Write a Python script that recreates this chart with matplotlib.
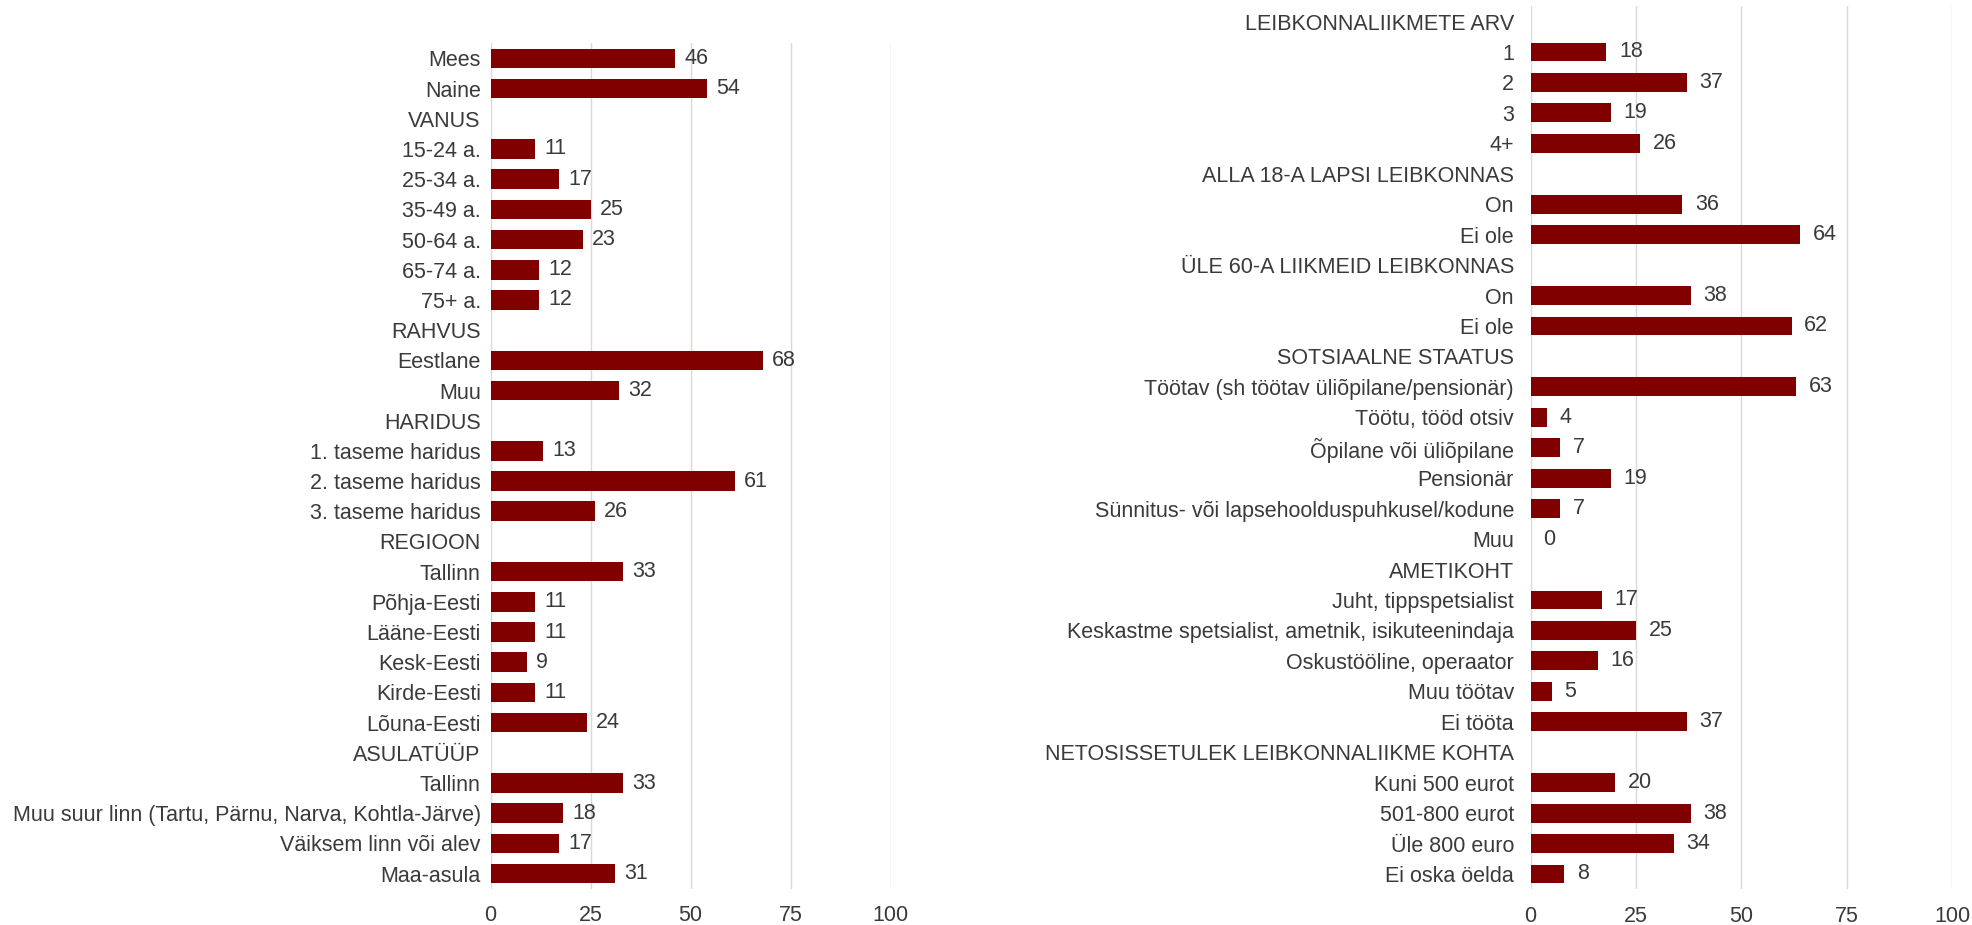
import matplotlib
matplotlib.use("Agg")
import matplotlib.pyplot as plt

plt.rcParams['font.family'] = ['Liberation Sans', 'DejaVu Sans']

# left panel
left_labels = ['Mees', 'Naine', 'VANUS', '15-24 a.', '25-34 a.', '35-49 a.', '50-64 a.',
               '65-74 a.', '75+ a.', 'RAHVUS', 'Eestlane', 'Muu', 'HARIDUS',
               '1. taseme haridus', '2. taseme haridus', '3. taseme haridus', 'REGIOON',
               'Tallinn', 'Põhja-Eesti', 'Lääne-Eesti', 'Kesk-Eesti', 'Kirde-Eesti',
               'Lõuna-Eesti', 'ASULATÜÜP', 'Tallinn',
               'Muu suur linn (Tartu, Pärnu, Narva, Kohtla-Järve)',
               'Väiksem linn või alev', 'Maa-asula']
left_values = [46, 54, None, 11, 17, 25, 23, 12, 12, None, 68, 32, None,
               13, 61, 26, None, 33, 11, 11, 9, 11, 24, None, 33, 18, 17, 31]

# right panel
right_labels = ['LEIBKONNALIIKMETE ARV', '1', '2', '3', '4+',
                'ALLA 18-A LAPSI LEIBKONNAS', 'On', 'Ei ole',
                'ÜLE 60-A LIIKMEID LEIBKONNAS', 'On', 'Ei ole',
                'SOTSIAALNE STAATUS', 'Töötav (sh töötav üliõpilane/pensionär)',
                'Töötu, tööd otsiv', 'Õpilane või üliõpilane', 'Pensionär',
                'Sünnitus- või lapsehoolduspuhkusel/kodune', 'Muu',
                'AMETIKOHT', 'Juht, tippspetsialist',
                'Keskastme spetsialist, ametnik, isikuteenindaja',
                'Oskustööline, operaator', 'Muu töötav', 'Ei tööta',
                'NETOSISSETULEK LEIBKONNALIIKME KOHTA', 'Kuni 500 eurot',
                '501-800 eurot', 'Üle 800 euro', 'Ei oska öelda']
right_values = [None, 18, 37, 19, 26, None, 36, 64, None, 38, 62, None,
                63, 4, 7, 19, 7, 0, None, 17, 25, 16, 5, 37, None, 20, 38, 34, 8]

ticks = [0, 25, 50, 75, 100]
bar_color = '#800000'
text_color = '#3a3a3a'
grid_color = '#d9d9d9'
fs = 15.5

W, H = 1972, 925
fig = plt.figure(figsize=(W / 100, H / 100), dpi=100)


def draw_panel(ax, labels, values, bar_h, ypad, vpad):
    n = len(labels)
    ys = list(range(n))
    for y, v in zip(ys, values):
        if v is None:
            continue
        ax.barh(y, v, height=bar_h, color=bar_color, zorder=3)
        ax.annotate(str(v), (v, y), xytext=(vpad, 0), textcoords='offset points',
                    va='center', ha='left', fontsize=fs, color=text_color)
    ax.set_ylim(n - 0.5, -0.5)
    ax.set_xlim(0, 100)
    ax.set_yticks(ys)
    ax.set_yticklabels(labels)
    ax.set_xticks(ticks)
    ax.tick_params(axis='both', length=0, labelsize=fs, colors=text_color)
    ax.tick_params(axis='y', pad=ypad)
    ax.tick_params(axis='x', pad=12)
    for s in ax.spines.values():
        s.set_visible(False)
    ax.set_axisbelow(True)
    ax.grid(axis='x', color=grid_color, linewidth=1)
    ax.grid(axis='y', visible=False)


ax1 = fig.add_axes([490.5 / W, 1 - 888.7 / H, 400 / W, 845.4 / H])
draw_panel(ax1, left_labels, left_values, 0.65, 7, 7)

ax2 = fig.add_axes([1530.6 / W, 1 - 889.2 / H, 421.4 / W, 882.9 / H])
draw_panel(ax2, right_labels, right_values, 0.62, 12, 9)

fig.savefig('out.png', dpi=100)
